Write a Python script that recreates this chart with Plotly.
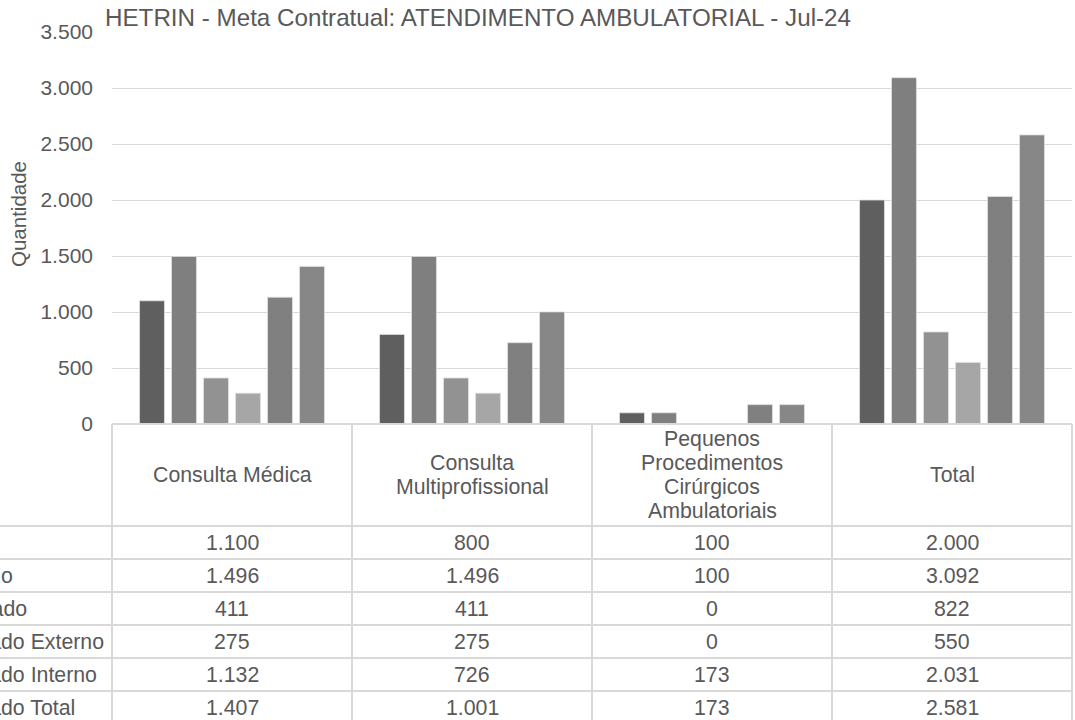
import plotly.graph_objects as go

# ---------------- data ----------------
categories = ["Consulta Médica", "Consulta Multiprofissional",
              "Pequenos Procedimentos Cirúrgicos Ambulatoriais", "Total"]
category_lines = [["Consulta Médica"],
                  ["Consulta", "Multiprofissional"],
                  ["Pequenos", "Procedimentos", "Cirúrgicos", "Ambulatoriais"],
                  ["Total"]]
series_names = ["Meta", "Ofertado", "Agendado", "Realizado Externo",
                "Realizado Interno", "Realizado Total"]
meta = [1100, 800, 100, 2000]
ofertado = [1496, 1496, 100, 3092]
agendado = [411, 411, 0, 822]
realizado_externo = [275, 275, 0, 550]
realizado_interno = [1132, 726, 173, 2031]
realizado_total = [1407, 1001, 173, 2581]
series_values = [meta, ofertado, agendado, realizado_externo,
                 realizado_interno, realizado_total]
y_ticks = [0, 500, 1000, 1500, 2000, 2500, 3000, 3500]
title_text = "HETRIN - Meta Contratual: ATENDIMENTO AMBULATORIAL - Jul-24"
y_title = "Quantidade"

# ---------------- style ----------------
colors = ["#5f5f5f", "#7f7f7f", "#929292", "#a6a6a6", "#808080", "#878787"]
TXT = "#595959"
GRID = "#d9d9d9"
FONT = "Liberation Sans, Arial, sans-serif"
W, H = 1075, 720
PL, PR, PT, PB = 112, 1072, 32, 424   # plot area in pixels
FS = 21.3

def px(x):
    return (x - PL) / (PR - PL)

def py(y):
    return (PB - y) / (PB - PT)

def fmt(v):
    return f"{v:,}".replace(",", ".")

fig = go.Figure()
for name, vals, c in zip(series_names, series_values, colors):
    fig.add_trace(go.Bar(x=categories, y=vals, name=name, marker_color=c,
                         marker_line=dict(color="#e0e0e0", width=0.8),
                         showlegend=False))

shapes = []
annotations = []

# table geometry
col_w = (PR - PL) / len(categories)
col_x = [PL + i * col_w for i in range(len(categories) + 1)]
header_bottom = 526
row_h = 33
n_rows = len(series_names)
row_y = [header_bottom + i * row_h for i in range(n_rows + 1)]
label_left = -72

line_style = dict(color=GRID, width=2)
# top border of table (category axis line)
shapes.append(dict(type="line", xref="paper", yref="paper",
                   x0=px(PL), x1=px(PR), y0=py(PB), y1=py(PB), line=line_style))
# horizontal row lines
for y in row_y:
    shapes.append(dict(type="line", xref="paper", yref="paper",
                       x0=px(label_left - 20), x1=px(PR), y0=py(y), y1=py(y),
                       line=line_style))
# vertical lines
for x in col_x:
    shapes.append(dict(type="line", xref="paper", yref="paper",
                       x0=px(x), x1=px(x), y0=py(PB), y1=py(row_y[-1]),
                       line=line_style))

# header texts
header_mid = (PB + header_bottom) / 2
line_gap = 24
for i, lines in enumerate(category_lines):
    cx = (col_x[i] + col_x[i + 1]) / 2
    n = len(lines)
    for k, t in enumerate(lines):
        yy = header_mid + (k - (n - 1) / 2) * line_gap
        annotations.append(dict(xref="paper", yref="paper", x=px(cx), y=py(yy),
                                text=t, showarrow=False, xanchor="center",
                                yanchor="middle",
                                font=dict(family=FONT, size=FS, color=TXT)))

# data rows
for r, (name, vals) in enumerate(zip(series_names, series_values)):
    cy = (row_y[r] + row_y[r + 1]) / 2
    annotations.append(dict(xref="paper", yref="paper", x=px(label_left), y=py(cy),
                            text=name, showarrow=False, xanchor="left",
                            yanchor="middle",
                            font=dict(family=FONT, size=FS, color=TXT)))
    for i, v in enumerate(vals):
        cx = (col_x[i] + col_x[i + 1]) / 2
        annotations.append(dict(xref="paper", yref="paper", x=px(cx), y=py(cy),
                                text=fmt(v), showarrow=False, xanchor="center",
                                yanchor="middle",
                                font=dict(family=FONT, size=FS, color=TXT)))

# title
annotations.append(dict(xref="paper", yref="paper", x=px(103), y=py(18),
                        text=title_text, showarrow=False, xanchor="left",
                        yanchor="middle",
                        font=dict(family=FONT, size=24.2, color=TXT)))
# y axis title
annotations.append(dict(xref="paper", yref="paper", x=px(18), y=py(214),
                        text=y_title, showarrow=False, textangle=-90,
                        xanchor="center", yanchor="middle",
                        font=dict(family=FONT, size=20.5, color=TXT)))

fig.update_layout(
    width=W, height=H,
    margin=dict(l=PL, r=W - PR, t=PT, b=H - PB, pad=0),
    paper_bgcolor="white", plot_bgcolor="white",
    barmode="group", bargap=0.2, bargroupgap=0.22,
    separators=",.",
    shapes=shapes, annotations=annotations,
    font=dict(family=FONT, color=TXT),
    xaxis=dict(showticklabels=False, showgrid=False, zeroline=False,
               showline=False, ticks="", range=[-0.5, len(categories) - 0.5]),
    yaxis=dict(range=[0, 3500], tickvals=y_ticks, tickformat=",d",
               showgrid=True, gridcolor=GRID, gridwidth=1, zeroline=False,
               showline=False, ticks="", ticklabelstandoff=18,
               tickfont=dict(family=FONT, size=21, color=TXT)),
)

fig.write_html("out.html",
               config={"displayModeBar": False},
               post_script="document.body.style.margin='0px';"
                           "document.body.style.overflow='hidden';")
